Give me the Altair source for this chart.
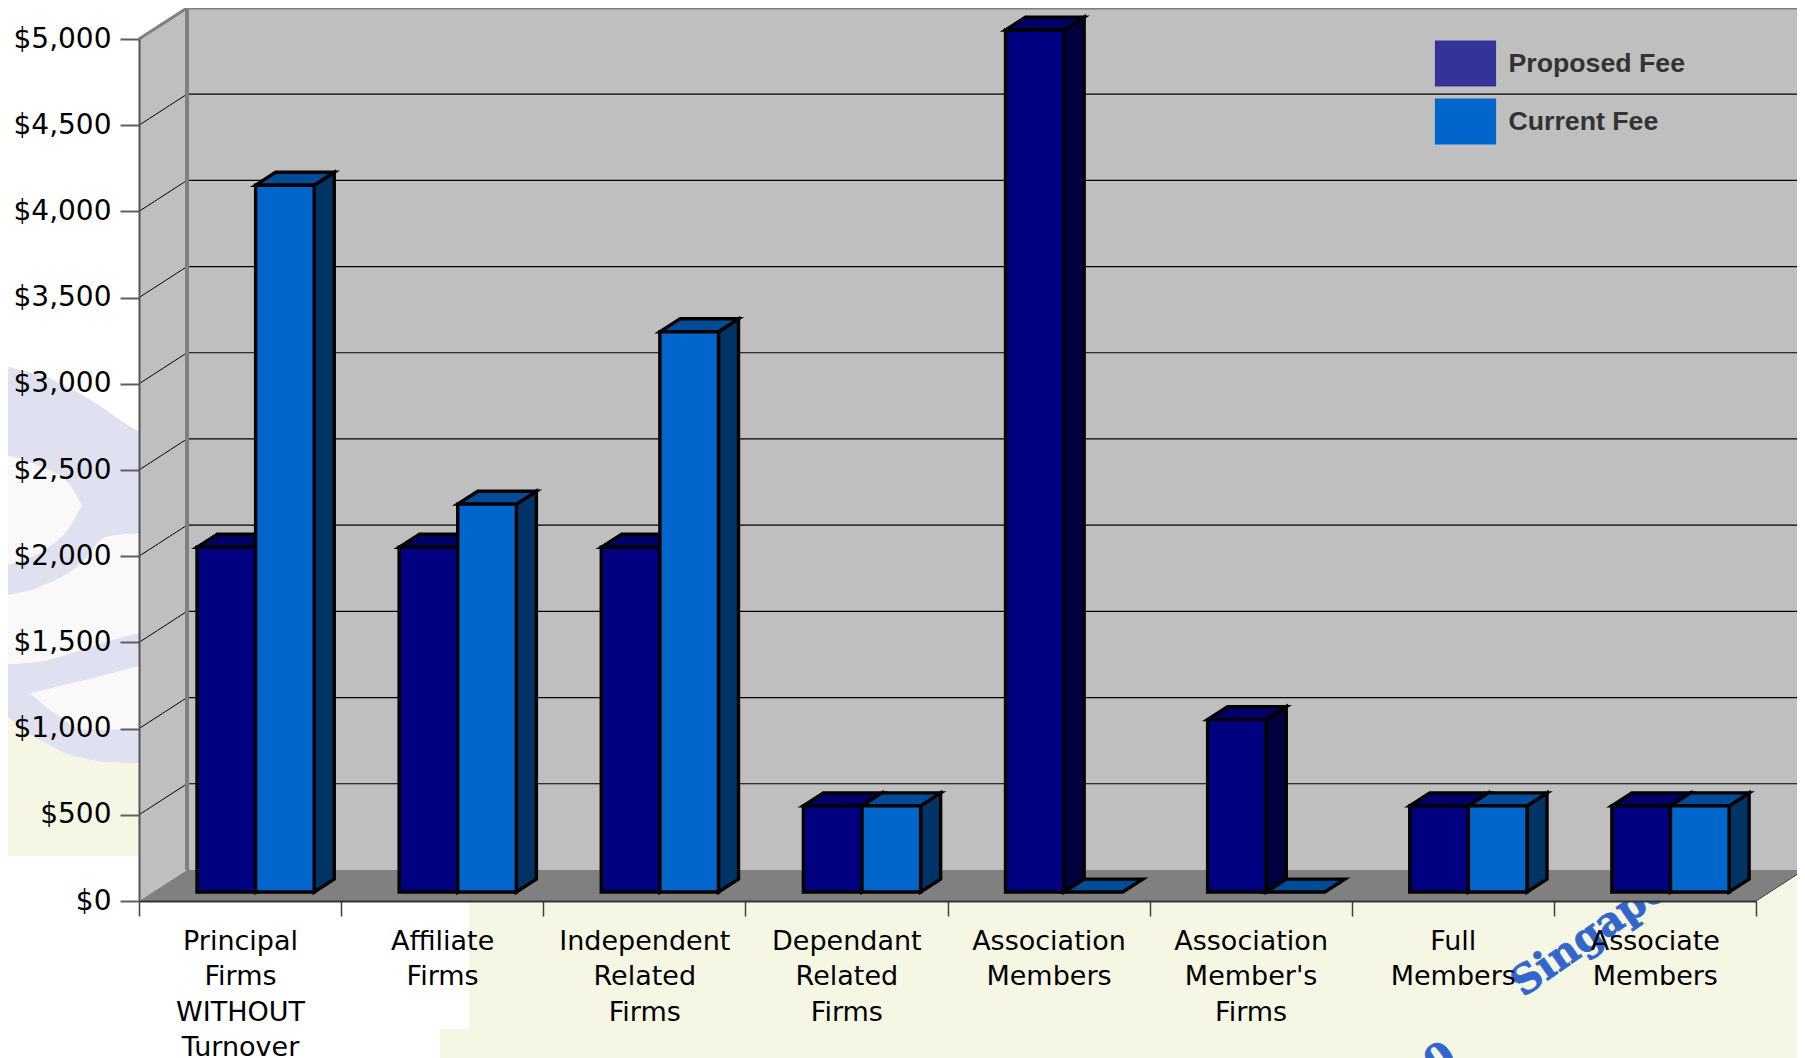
import json
import altair as alt
import pandas as pd

CATEGORIES = [
    ["Principal", "Firms", "WITHOUT", "Turnover"],
    ["Affiliate", "Firms"],
    ["Independent", "Related", "Firms"],
    ["Dependant", "Related", "Firms"],
    ["Association", "Members"],
    ["Association", "Member's", "Firms"],
    ["Full", "Members"],
    ["Associate", "Members"],
]
SERIES = ["Proposed Fee", "Current Fee"]
PROPOSED = [2000, 2000, 2000, 500, 5000, 1000, 500, 500]
CURRENT = [4100, 2250, 3250, 500, 0, 0, 500, 500]
TICKS = [0, 500, 1000, 1500, 2000, 2500, 3000, 3500, 4000, 4500, 5000]

# geometry of the pseudo-3D box, in data units
BACK_X, BACK_Y = 0.2375, 180
BAR_BASE = 52
BAR_LEFT, BAR_W = 0.287, 0.29
DEP_X, DEP_Y = 0.099, 75
RIGHT = 8.25

LEFT_PX, BOTTOM_PX, PX_X, PX_Y = 139.0, 901.0, 202.125, 0.1725
W, H = 1617, 862


def X(p):
    return (p - LEFT_PX) / PX_X


def Y(p):
    return (BOTTOM_PX - p) / PX_Y


xs = alt.Scale(domain=[0, 8], nice=False, zero=False)
ys = alt.Scale(domain=[0, 5000], nice=False, zero=False)

label_lookup = json.dumps(CATEGORIES + [""])
x_axis = alt.Axis(
    values=list(range(9)), grid=False, zindex=2, title=None, labelOffset=101, labelAngle=0,
    labelAlign="center", labelBaseline="top", labelExpr=f"{label_lookup}[datum.value]",
    labelFont="DejaVu Sans", labelFontSize=27, labelColor="black", labelLineHeight=35.6,
    labelPadding=12, labelOverlap=False, labelFlush=False, labelBound=False, labelLimit=0,
    tickSize=15, tickColor="#404040", tickWidth=1.5, domainColor="#333333", domainWidth=2,
)
y_axis = alt.Axis(
    values=TICKS, grid=False, zindex=2, title=None, format="$,.0f", labelFont="DejaVu Sans",
    labelFontSize=28, labelColor="black", labelPadding=9, labelOverlap=False,
    labelFlush=False, labelBound=False,
    tickSize=19, tickColor="#606060", tickWidth=2, domainColor="#555555", domainWidth=2,
)

ex = alt.X("x:Q", scale=xs, axis=x_axis)
ey = alt.Y("y:Q", scale=ys, axis=y_axis)
F = alt.Fill("f:N", scale=None, legend=None)

# ---- page decoration behind the chart ----
YEL, LAV, OFF = "#F5F7E4", "#E0E1F0", "#F9F9F9"
rects = [
    (0, 139, 690, 856, YEL),
    (777, 1805, 0, 12, YEL),
    (469, 1805, 860, 1060, YEL),
    (440, 469, 1029, 1060, YEL),
]
rect_df = pd.DataFrame(
    [dict(x=X(a), x2=X(b), y=Y(c), y2=Y(d), f=e) for a, b, c, d, e in rects]
)
bg_rect = alt.Chart(rect_df).mark_rect().encode(x=ex, x2="x2:Q", y=ey, y2="y2:Q", fill=F)

shapes = [
    (LAV, [-30, 50, 100, 150, 200, 250, 300, 350, 417],
     [65, 83, 96, 110, 135, 160, 190, 225, 265],
     [1055, 1112, 1150, 1175, 1200, 1212, 1222, 1225, 1228]),
    (OFF, [-30, 130, 210, 245], [325, 370, 420, 480], [660, 610, 540, 480]),
    (OFF, [-30, 120, 240, 320, 417], [745, 715, 650, 570, 560], [942, 932, 900, 875, 850]),
    (OFF, [90, 190, 250, 300, 417], [1025, 1000, 987, 975, 945], [1025, 1100, 1130, 1130, 1130]),
]
rows = []
for i, (c, sx, st, sb) in enumerate(shapes):
    for a, b, d in zip(sx, st, sb):
        rows.append(dict(id=f"s{i}", f=c, x=X(a / 3), y=Y(340 + b / 2.9), y2=Y(340 + d / 2.9)))
bg_area = alt.Chart(pd.DataFrame(rows)).mark_area(interpolate="monotone").encode(
    x=ex, y=ey, y2="y2:Q", fill=F, detail="id:N"
)

wm_df = pd.DataFrame(
    [dict(x=X(1516), y=Y(988), t="Singapore"), dict(x=X(1452), y=Y(1052), t="2010")]
)
wm_style = dict(
    font="DejaVu Serif", fontWeight="bold", fontSize=40, color="#3366CC",
    stroke="#3366CC", strokeWidth=0.8, angle=325, baseline="middle",
)
wm1 = alt.Chart(wm_df.iloc[[0]]).mark_text(align="left", **wm_style).encode(x=ex, y=ey, text="t:N")
wm2 = alt.Chart(wm_df.iloc[[1]]).mark_text(align="right", **wm_style).encode(x=ex, y=ey, text="t:N")

# ---- legend source, hidden behind the back wall ----
legend_df = pd.DataFrame(dict(x=[4, 4], y=[2500, 2500], s=SERIES))
legend_layer = alt.Chart(legend_df).mark_point(filled=True, size=4).encode(
    x=ex, y=ey,
    color=alt.Color(
        "s:N",
        scale=alt.Scale(domain=SERIES, range=["#333399", "#0066CC"]),
        sort=SERIES,
        legend=alt.Legend(
            title=None, orient="none", legendX=1303.5, legendY=1.5, padding=0,
            symbolType="M-1.33,-1H1.33V1H-1.33Z", symbolSize=2116, symbolStrokeWidth=0,
            symbolOpacity=1, rowPadding=12, labelOffset=20, labelFont="Liberation Sans",
            labelFontWeight="bold", labelFontSize=26.7, labelColor="#333333", labelLimit=400,
        ),
    ),
)

# ---- walls and floor ----
WALL, FLOOR, EDGE = "#BFBFBF", "#808080", "#808080"
back = alt.Chart(pd.DataFrame([dict(x=BACK_X, x2=RIGHT, y=BACK_Y, y2=5000 + BACK_Y, f=WALL)])).mark_rect().encode(
    x=ex, x2="x2:Q", y=ey, y2="y2:Q", fill=F
)
lwall = alt.Chart(pd.DataFrame([
    dict(x=0, y=0, y2=5000, f=WALL), dict(x=BACK_X, y=BACK_Y, y2=5000 + BACK_Y, f=WALL),
])).mark_area().encode(x=ex, y=ey, y2="y2:Q", fill=F)
floor = alt.Chart(pd.DataFrame([
    dict(y=0, x=0, x2=8, f=FLOOR), dict(y=BACK_Y, x=BACK_X, x2=8 + BACK_X, f=FLOOR),
])).mark_area(orient="horizontal").encode(x=ex, x2="x2:Q", y=ey, fill=F)

grid_v = [t for t in TICKS if 0 < t < 5000]
grid_back = alt.Chart(pd.DataFrame(dict(x=[BACK_X] * len(grid_v), x2=[RIGHT] * len(grid_v),
                                        y=[v + BACK_Y for v in grid_v]))).mark_rule(
    color="black", strokeWidth=1.2
).encode(x=ex, x2="x2:Q", y=ey)
grid_side_rows = []
for v in grid_v:
    grid_side_rows += [dict(id=v, x=0, y=v), dict(id=v, x=BACK_X, y=v + BACK_Y)]
grid_side = alt.Chart(pd.DataFrame(grid_side_rows)).mark_line(color="black", strokeWidth=1).encode(
    x=ex, y=ey, detail="id:N"
)
edge_rows = [
    dict(id="top", x=0, y=5000), dict(id="top", x=BACK_X, y=5000 + BACK_Y), dict(id="top", x=RIGHT, y=5000 + BACK_Y),
]
edge_top = alt.Chart(pd.DataFrame(edge_rows)).mark_line(color=EDGE, strokeWidth=3).encode(x=ex, y=ey, detail="id:N")
edge_back = alt.Chart(pd.DataFrame([dict(x=BACK_X, y=BACK_Y, y2=5000 + BACK_Y)])).mark_rule(
    color=EDGE, strokeWidth=4
).encode(x=ex, y=ey, y2="y2:Q")
edge_right = alt.Chart(pd.DataFrame([dict(x=8, y=0), dict(x=8 + BACK_X, y=BACK_Y)])).mark_line(
    color="#404040", strokeWidth=1
).encode(x=ex, y=ey)

# ---- bars ----
COLORS = {
    0: ("#000080", "#000040", "#000066"),
    1: ("#0066CC", "#003366", "#004C99"),
}


def bar_layers(values, s):
    front, side, top = COLORS[s]
    fr, sr, tr = [], [], []
    for i, v in enumerate(values):
        a = i + BAR_LEFT + s * BAR_W
        b = a + BAR_W
        t = BAR_BASE + v
        fr.append(dict(x=a, x2=b, y=BAR_BASE, y2=t, f=front))
        if v > 0:
            sr += [dict(id=i, x=b, y=BAR_BASE, y2=t, f=side),
                   dict(id=i, x=b + DEP_X, y=BAR_BASE + DEP_Y, y2=t + DEP_Y, f=side)]
        tr += [dict(id=i, y=t, x=a, x2=b, f=top),
               dict(id=i, y=t + DEP_Y, x=a + DEP_X, x2=b + DEP_X, f=top)]
    stroke = dict(stroke="black", strokeWidth=3.4, strokeJoin="miter")
    return [
        alt.Chart(pd.DataFrame(sr)).mark_area(**stroke).encode(x=ex, y=ey, y2="y2:Q", fill=F, detail="id:N"),
        alt.Chart(pd.DataFrame(tr)).mark_area(orient="horizontal", **stroke).encode(
            x=ex, x2="x2:Q", y=ey, fill=F, detail="id:N"
        ),
        alt.Chart(pd.DataFrame([r for r, v in zip(fr, values) if v > 0])).mark_rect(**stroke).encode(
            x=ex, x2="x2:Q", y=ey, y2="y2:Q", fill=F
        ),
    ]


layers = [bg_rect, bg_area, wm1, wm2, legend_layer, back, lwall, floor, grid_back, grid_side,
          edge_top, edge_back, edge_right]
layers += bar_layers(PROPOSED, 0) + bar_layers(CURRENT, 1)

chart = alt.layer(*layers).properties(
    width=W, height=H,
    autosize=alt.AutoSizeParams(type="none"),
    padding={"left": 131, "top": 31, "right": 41, "bottom": 157},
    background="white",
).configure_view(stroke=None)

chart.save("out.html", embed_options={"renderer": "svg", "actions": False})
